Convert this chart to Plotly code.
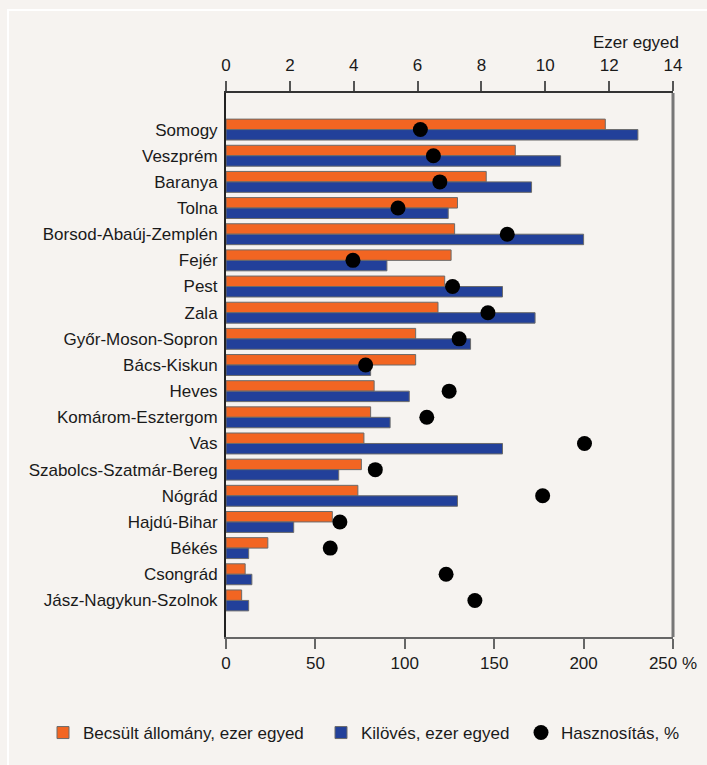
import plotly.graph_objects as go

counties = ["Somogy", "Veszprém", "Baranya", "Tolna", "Borsod-Abaúj-Zemplén", "Fejér", "Pest", "Zala",
            "Győr-Moson-Sopron", "Bács-Kiskun", "Heves", "Komárom-Esztergom", "Vas",
            "Szabolcs-Szatmár-Bereg", "Nógrád", "Hajdú-Bihar", "Békés", "Csongrád", "Jász-Nagykun-Szolnok"]
becsult = [11.88, 9.06, 8.15, 7.25, 7.16, 7.05, 6.85, 6.64, 5.94, 5.94, 4.64, 4.53, 4.32, 4.24, 4.13, 3.33, 1.31, 0.60, 0.49]
kiloves = [12.9, 10.48, 9.57, 6.96, 11.2, 5.04, 8.66, 9.68, 7.66, 4.53, 5.74, 5.14, 8.66, 3.53, 7.25, 2.12, 0.71, 0.81, 0.71]
hasznositas = [108.7, 116.0, 119.6, 96.2, 157.3, 71.0, 126.7, 146.5, 130.4, 78.1, 124.8, 112.3, 200.5, 83.5, 177.1, 63.7, 58.3, 123.1, 139.2]

top_ticks = [0, 2, 4, 6, 8, 10, 12, 14]
bottom_ticks = [0, 50, 100, 150, 200, 250]
bottom_labels = ["0", "50", "100", "150", "200", "250 %"]

ORANGE = "#F26522"
BLUE = "#22409A"
BG = "#F6F3F0"
FONT = "Liberation Sans, Arial, sans-serif"
FS = 17

fig = go.Figure()
fig.add_trace(go.Bar(y=counties, x=becsult, orientation="h", name="Becsült állomány, ezer egyed",
                     marker=dict(color=ORANGE, line=dict(color="#6b6b6b", width=1)),
                     xaxis="x", yaxis="y", legend="legend"))
fig.add_trace(go.Bar(y=counties, x=kiloves, orientation="h", name="Kilövés, ezer egyed",
                     marker=dict(color=BLUE, line=dict(color="#6b6b6b", width=1)),
                     xaxis="x", yaxis="y", legend="legend2"))
fig.add_trace(go.Scatter(y=counties, x=hasznositas, mode="markers", name="Hasznosítás, %",
                         marker=dict(color="black", size=15),
                         xaxis="x2", yaxis="y", legend="legend3"))

W, H = 707, 765
L, R, T, B = 226, 34, 93, 128
pw, ph = W - L - R, H - T - B

def px_x(p):
    return (p - L) / pw

def px_y(p):
    return (H - B - p) / ph

def leg(xpx):
    return dict(orientation="h", x=px_x(xpx), y=px_y(733), xanchor="left", yanchor="middle",
                font=dict(size=FS), bgcolor="rgba(0,0,0,0)")

fig.update_layout(
    width=W, height=H,
    margin=dict(l=L, r=R, t=T, b=B, autoexpand=False),
    paper_bgcolor=BG, plot_bgcolor=BG,
    font=dict(family=FONT, size=FS, color="#1a1a1a"),
    barmode="group", bargap=0.2, bargroupgap=0,
    showlegend=True,
    legend=leg(43), legend2=leg(321), legend3=leg(521),
    xaxis=dict(side="top", range=[0, 14], tickvals=top_ticks, showgrid=False, zeroline=False,
               showline=True, linecolor="#333333", linewidth=2, automargin=False,
               ticks="outside", ticklen=10, tickwidth=2, tickcolor="#555555",
               ticklabelstandoff=3, fixedrange=True),
    xaxis2=dict(overlaying="x", side="bottom", anchor="y", range=[0, 250], automargin=False,
                tickvals=bottom_ticks, ticktext=bottom_labels, showgrid=False, zeroline=False,
                showline=True, linecolor="#666666", linewidth=2,
                ticks="outside", ticklen=10, tickwidth=2, tickcolor="#666666"),
    yaxis=dict(autorange="reversed", type="category", showgrid=False, zeroline=False, automargin=False,
               showline=True, linecolor="#222222", linewidth=2, ticks="", ticklabelstandoff=3),
)

# right frame line of the plot area
fig.add_shape(type="line", xref="paper", yref="paper", x0=1, x1=1, y0=0, y1=1,
              line=dict(color="#777777", width=3))
# white outer frame
fig.add_shape(type="rect", xref="paper", yref="paper",
              x0=px_x(8), x1=px_x(720), y0=px_y(780), y1=px_y(10),
              line=dict(color="white", width=2), layer="below")

fig.add_annotation(text="Ezer egyed", xref="paper", yref="paper", x=px_x(681), y=px_y(42),
                   xanchor="right", yanchor="middle", showarrow=False, font=dict(size=FS))

fig.write_html("out.html", config={"displayModeBar": False},
               post_script="document.body.style.margin='0';document.body.style.padding='0';document.body.style.overflow='hidden';")
